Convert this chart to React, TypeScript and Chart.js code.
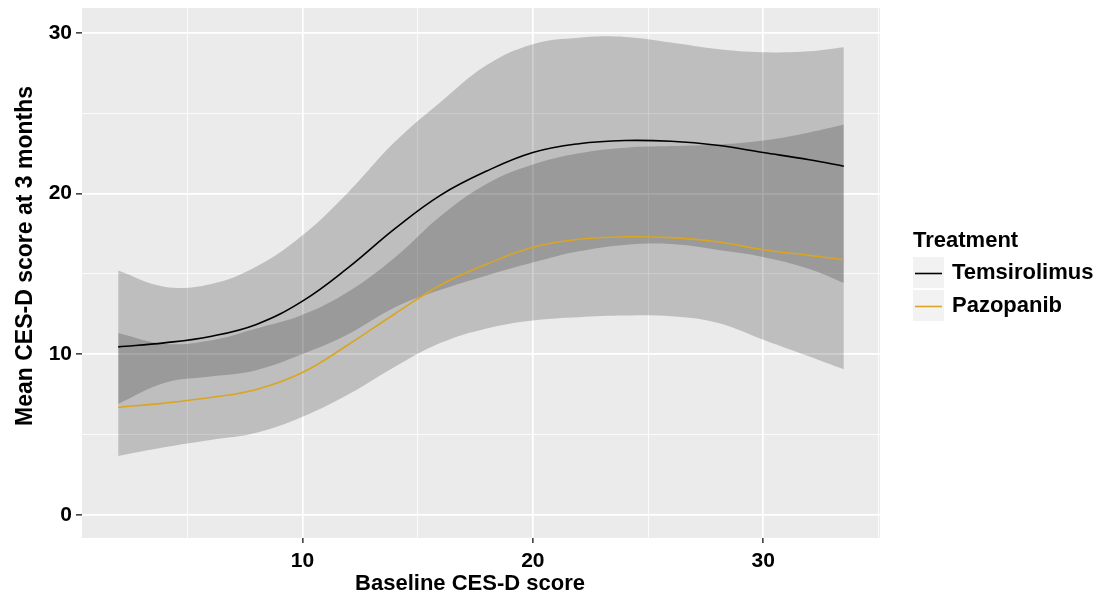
import React, { useEffect, useRef } from "react";
import { Chart, registerables } from "chart.js";

Chart.register(...registerables);

// Baseline CES-D score (x positions of the smoothed curves)
const baseline = [2, 4, 6, 8, 10, 12, 14, 16, 18, 20, 22, 24, 26, 28, 30, 32, 33.5];

// Temsirolimus: fitted mean and confidence band
const temsMean = [10.45, 10.7, 11.1, 11.85, 13.3, 15.4, 17.8, 19.9, 21.4, 22.55, 23.1, 23.3, 23.25, 23.0, 22.55, 22.1, 21.7];
const temsUpper = [15.2, 14.2, 14.35, 15.45, 17.4, 20.1, 23.2, 25.7, 28.0, 29.3, 29.7, 29.75, 29.4, 29.0, 28.8, 28.85, 29.1];
const temsLower = [6.9, 8.2, 8.6, 9.0, 10.0, 11.25, 12.9, 14.0, 14.9, 15.7, 16.4, 16.8, 16.85, 16.5, 16.05, 15.3, 14.43];

// Pazopanib: fitted mean and confidence band
const pazMean = [6.69, 6.95, 7.3, 7.8, 8.85, 10.6, 12.5, 14.3, 15.6, 16.65, 17.15, 17.3, 17.25, 17.0, 16.5, 16.15, 15.88];
const pazUpper = [11.32, 10.65, 10.85, 11.6, 12.45, 13.9, 16.0, 18.6, 20.6, 21.8, 22.5, 22.85, 22.95, 23.05, 23.3, 23.8, 24.29];
const pazLower = [3.66, 4.2, 4.65, 5.1, 6.1, 7.5, 9.2, 10.7, 11.6, 12.1, 12.3, 12.4, 12.35, 11.95, 10.9, 9.85, 9.05];

// Axis ticks (major = labelled, minor = unlabelled grid lines)
const xTicks = [5, 10, 15, 20, 25, 30, 35];
const yTicks = [0, 5, 10, 15, 20, 25, 30];
const xMajor = [10, 20, 30];
const yMajor = [0, 10, 20, 30];

const seriesNames = ["Temsirolimus", "Pazopanib"];
const seriesColors = ["#000000", "#DAA520"];
const legendTitle = "Treatment";
const xTitle = "Baseline CES-D score";
const yTitle = "Mean CES-D score at 3 months";

const FONT = '"Liberation Sans", Arial, Helvetica, sans-serif';

export default function App() {
  const ref = useRef<HTMLCanvasElement>(null);

  useEffect(() => {
    document.body.style.margin = "0";
    const canvas = ref.current;
    if (!canvas) return;

    const pts = (ys: number[]) => baseline.map((x, i) => ({ x, y: ys[i] }));
    const bandFill = "rgba(0,0,0,0.19)";

    const panelBg = {
      id: "panelBg",
      beforeDraw(chart: any) {
        const { ctx, chartArea: a } = chart;
        ctx.save();
        ctx.fillStyle = "#EBEBEB";
        ctx.fillRect(a.left, a.top, a.right - a.left, a.bottom - a.top);
        ctx.restore();
      },
    };

    const decorations = {
      id: "decorations",
      afterDraw(chart: any) {
        const { ctx, chartArea: a } = chart;
        ctx.save();
        ctx.fillStyle = "#000";
        // x title
        ctx.font = `bold 22px ${FONT}`;
        ctx.textAlign = "center";
        ctx.textBaseline = "alphabetic";
        ctx.fillText(xTitle, 470, 590);
        // y title
        ctx.save();
        ctx.translate(32, 256);
        ctx.rotate(-Math.PI / 2);
        ctx.font = `bold 23px ${FONT}`;
        ctx.fillText(yTitle, 0, 0);
        ctx.restore();
        // legend
        const lx = a.right + 33;
        ctx.textAlign = "left";
        ctx.font = `bold 22px ${FONT}`;
        ctx.fillText(legendTitle, lx, 247);
        const keyTops = [257, 290];
        seriesNames.forEach((name, i) => {
          const top = keyTops[i];
          ctx.fillStyle = "#F2F2F2";
          ctx.fillRect(lx, top, 31, 31);
          ctx.strokeStyle = seriesColors[i];
          ctx.lineWidth = 1.6;
          ctx.beginPath();
          ctx.moveTo(lx + 2, top + 16.5);
          ctx.lineTo(lx + 29, top + 16.5);
          ctx.stroke();
          ctx.fillStyle = "#000";
          ctx.fillText(name, lx + 39, top + 21.5);
        });
        ctx.restore();
      },
    };

    const gridWidth = (majors: number[]) => (c: any) =>
      c.tick && majors.includes(c.tick.value) ? 1.7 : 0.8;
    const tickColor = (majors: number[]) => (c: any) =>
      c.tick && majors.includes(c.tick.value) ? "#333333" : "rgba(0,0,0,0)";

    const chart = new Chart(canvas, {
      type: "line",
      data: {
        datasets: [
          { label: "temsLower", data: pts(temsLower), borderColor: "rgba(0,0,0,0)", borderWidth: 0, pointRadius: 0, fill: false, order: 2 },
          { label: "temsUpper", data: pts(temsUpper), borderColor: "rgba(0,0,0,0)", borderWidth: 0, pointRadius: 0, fill: "-1", backgroundColor: bandFill, order: 2 },
          { label: "pazLower", data: pts(pazLower), borderColor: "rgba(0,0,0,0)", borderWidth: 0, pointRadius: 0, fill: false, order: 2 },
          { label: "pazUpper", data: pts(pazUpper), borderColor: "rgba(0,0,0,0)", borderWidth: 0, pointRadius: 0, fill: "-1", backgroundColor: bandFill, order: 2 },
          { label: seriesNames[0], data: pts(temsMean), borderColor: seriesColors[0], borderWidth: 1.6, pointRadius: 0, fill: false, order: 1 },
          { label: seriesNames[1], data: pts(pazMean), borderColor: seriesColors[1], borderWidth: 1.6, pointRadius: 0, fill: false, order: 1 },
        ],
      },
      options: {
        responsive: false,
        animation: false,
        events: [],
        layout: { padding: { left: 0, top: 8, right: 228, bottom: 0 } },
        elements: { line: { tension: 0.4 } },
        plugins: { legend: { display: false }, tooltip: { enabled: false } },
        scales: {
          x: {
            type: "linear",
            min: 0.43,
            max: 35.07,
            afterBuildTicks: (s: any) => { s.ticks = xTicks.map((v) => ({ value: v })); },
            afterFit: (s: any) => { s.height = 62; s.paddingLeft = 0; s.paddingRight = 0; },
            border: { display: false },
            grid: {
              color: "#FFFFFF",
              lineWidth: gridWidth(xMajor),
              tickColor: tickColor(xMajor),
              tickWidth: 1.5,
              tickLength: 5,
            },
            ticks: {
              autoSkip: false,
              maxRotation: 0,
              padding: 6,
              color: "#000",
              font: { family: FONT, size: 21, weight: "bold" },
              callback: (v: any) => (xMajor.includes(Number(v)) ? String(v) : ""),
            },
          },
          y: {
            type: "linear",
            min: -1.45,
            max: 31.55,
            afterBuildTicks: (s: any) => { s.ticks = yTicks.map((v) => ({ value: v })); },
            afterFit: (s: any) => { s.width = 82; s.paddingTop = 0; s.paddingBottom = 0; },
            border: { display: false },
            grid: {
              color: "#FFFFFF",
              lineWidth: gridWidth(yMajor),
              tickColor: tickColor(yMajor),
              tickWidth: 1.5,
              tickLength: 6,
            },
            ticks: {
              autoSkip: false,
              padding: 4,
              color: "#000",
              font: { family: FONT, size: 21, weight: "bold" },
              callback: (v: any) => (yMajor.includes(Number(v)) ? String(v) : ""),
            },
          },
        },
      },
      plugins: [panelBg, decorations],
    } as any);

    return () => chart.destroy();
  }, []);

  return <canvas ref={ref} width={1108} height={600} style={{ display: "block" }} />;
}
